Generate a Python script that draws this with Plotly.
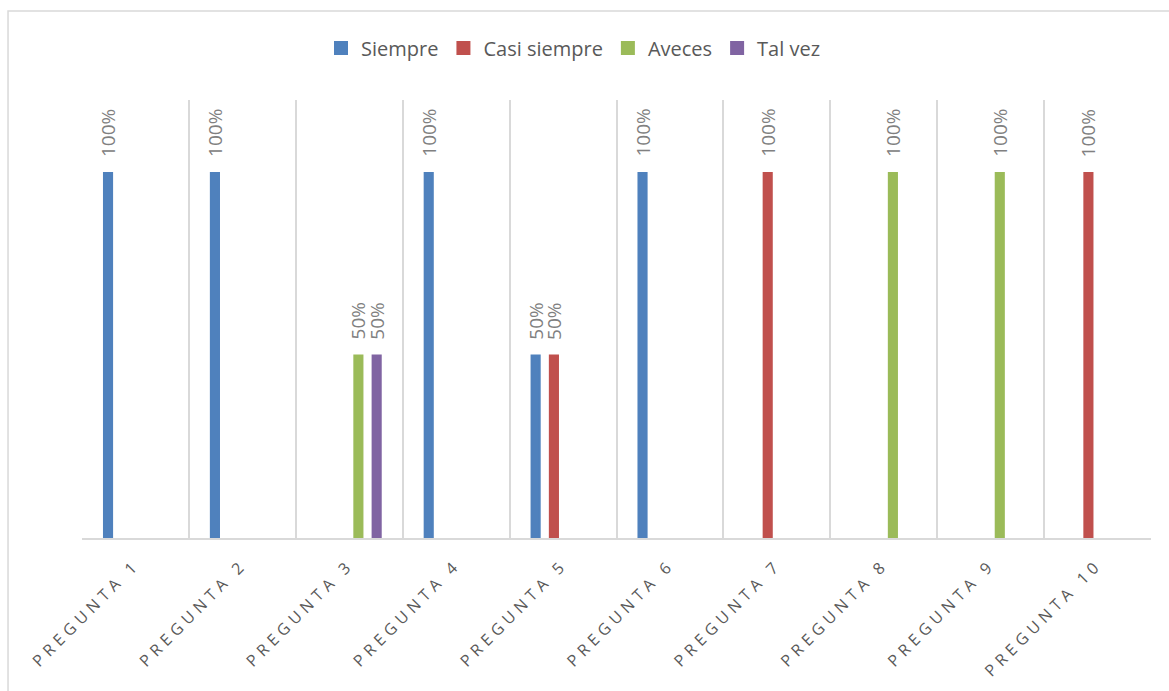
import plotly.graph_objects as go

# Survey answers per question (share of responses; None = no response in that option)
preguntas = ["Pregunta 1", "Pregunta 2", "Pregunta 3", "Pregunta 4", "Pregunta 5",
             "Pregunta 6", "Pregunta 7", "Pregunta 8", "Pregunta 9", "Pregunta 10"]
siempre = [1.0, 1.0, None, 1.0, 0.5, 1.0, None, None, None, None]
casi_siempre = [None, None, None, None, 0.5, None, 1.0, None, None, 1.0]
aveces = [None, None, 0.5, None, None, None, None, 1.0, 1.0, None]
tal_vez = [None, None, 0.5, None, None, None, None, None, None, None]

series = [
    ("Siempre", siempre, "#4F81BD"),
    ("Casi siempre", casi_siempre, "#C0504D"),
    ("Aveces", aveces, "#9BBB59"),
    ("Tal vez", tal_vez, "#8064A2"),
]

FONT = "Open Sans, Liberation Sans, sans-serif"

# grouped-bar geometry in category units
SLOT = 0.171      # spacing between neighbouring bars of a group
BAR_W = 0.076     # bar thickness (the outline adds ~2px)

categorias = [p.upper() for p in preguntas]
# spaced-out capitals for the category axis
etiquetas = [f'<span style="letter-spacing:4.8px">{c}</span>' for c in categorias]

fig = go.Figure()
annotations = []
n = len(series)
for k, (name, vals, color) in enumerate(series):
    center = (k - (n - 1) / 2) * SLOT
    fig.add_trace(go.Bar(
        name=name,
        x=categorias,
        y=vals,
        width=BAR_W,
        offset=center - BAR_W / 2,
        marker=dict(color=color, line=dict(width=2, color=color)),
        hovertemplate="%{x}<br>" + name + ": %{y:.0%}<extra></extra>",
    ))
    # value labels above each bar
    for i, v in enumerate(vals):
        if v is None:
            continue
        annotations.append(dict(
            x=i + center, y=v, xref="x", yref="y",
            text=f"{v:.0%}",
            textangle=-90,
            showarrow=False,
            xanchor="center", yanchor="bottom",
            yshift=14,
            font=dict(family=FONT, size=19, color="#808080"),
        ))

fig.update_layout(
    width=1169,
    height=691,
    margin=dict(l=82, r=18, t=100, b=153, autoexpand=False),
    paper_bgcolor="white",
    plot_bgcolor="white",
    barmode="overlay",
    showlegend=True,
    legend=dict(
        orientation="h",
        x=0.2236, xanchor="left",
        y=1.119, yanchor="middle",
        font=dict(family=FONT, size=20, color="#595959"),
        itemsizing="constant",
        itemwidth=30,
        traceorder="normal",
        bgcolor="rgba(0,0,0,0)",
    ),
    xaxis=dict(
        type="category",
        tickson="boundaries",
        tickmode="array",
        tickvals=categorias,
        ticktext=etiquetas,
        showgrid=True,
        gridcolor="#D9D9D9",
        gridwidth=1.5,
        showline=True,
        linecolor="#D9D9D9",
        linewidth=2,
        ticks="",
        tickangle=-45,
        ticklabelstandoff=9,
        tickfont=dict(family=FONT, size=16, color="#595959"),
        fixedrange=True,
    ),
    yaxis=dict(
        range=[0, 1.2],
        showgrid=False,
        zeroline=False,
        showticklabels=False,
        showline=False,
        ticks="",
        fixedrange=True,
    ),
    annotations=annotations,
    shapes=[
        # chart frame
        dict(type="rect", xref="paper", yref="paper",
             x0=-0.0692, x1=1.5, y0=-1.0, y1=1.2032,
             line=dict(color="#D9D9D9", width=1.5), fillcolor="rgba(0,0,0,0)",
             layer="below"),
    ],
)

fig.write_html("out.html")
